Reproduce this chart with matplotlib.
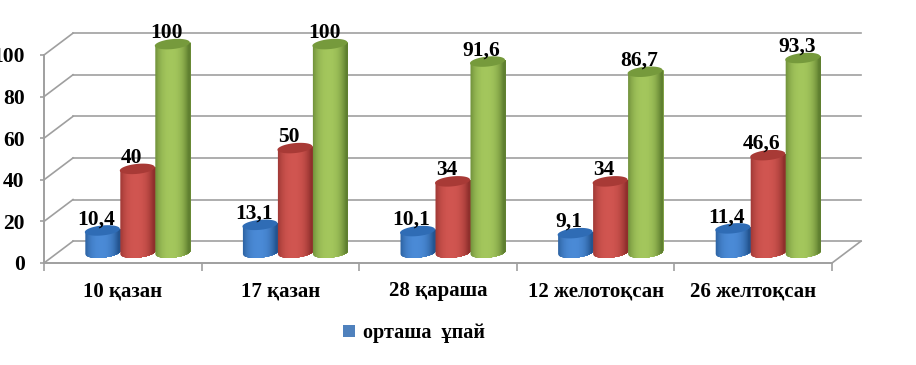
#############
# Libraries #
#############

import matplotlib
matplotlib.use("Agg")
import matplotlib.pyplot as plt
from matplotlib.patches import Patch
import numpy as np

########
# Data #
########

categories = ["10 қазан", "17 қазан", "28 қараша", "12 желотоқсан", "26 желтоқсан"]
blue_values = [10.4, 13.1, 10.1, 9.1, 11.4]
red_values = [40, 50, 34, 34, 46.6]
green_values = [100, 100, 91.6, 86.7, 93.3]
blue_labels = ["10,4", "13,1", "10,1", "9,1", "11,4"]
red_labels = ["40", "50", "34", "34", "46,6"]
green_labels = ["100", "100", "91,6", "86,7", "93,3"]
y_ticks = [0, 20, 40, 60, 80, 100]
legend_label = "орташа  ұпай"

##########
# Styles #
##########

FONT = ["Liberation Serif", "DejaVu Serif"]
GREY = "#9f9f9f"
# depth of the fake 3d box, in data units
DX = 0.184
DY = 10.5
BAR_W = 0.222
ELL_H = 2.4
TILT = 0.8

#############
# Functions #
#############

def shade(color, dark, t):
    """
    Mixes the light colour with the dark one, t=0 gives light.
    """
    c = np.array(matplotlib.colors.to_rgb(color))
    d = np.array(matplotlib.colors.to_rgb(dark))
    return c + (d - c) * t

def cylinder(ax, cx, value, light, dark, top, zorder):
    """
    Draws one cylinder as overlapping strips (no seams) and a top ellipse.
    """
    base = DY / 2
    a = BAR_W / 2
    edges = np.linspace(-1, 1, 41)
    for i in range(len(edges) - 1):
        u = np.linspace(edges[i], 1, 50)
        mid = (edges[i] + edges[i + 1]) / 2
        t = min(1.0, abs(mid + 0.1) ** 2.6)
        low = base - ELL_H * np.sqrt(1 - u**2) + TILT * u
        high = base + value + TILT * u
        ax.fill_between(cx + a * u, low, high, color=shade(light, dark, t),
                        lw=0, clip_on=False, zorder=zorder)
    th = np.linspace(0, 2 * np.pi, 80)
    ax.fill(cx + a * np.cos(th), base + value + ELL_H * np.sin(th) + TILT * np.cos(th),
            color=top, lw=0, clip_on=False, zorder=zorder + 0.1)

def draw_box(ax):
    """
    Draws the grid on the back wall, the side wall and the floor.
    """
    for v in y_ticks:
        ax.plot([0, DX], [v, v + DY], color=GREY, lw=1.2, clip_on=False, zorder=1)
        ax.plot([DX, 5 + DX], [v + DY, v + DY], color=GREY, lw=1.2, clip_on=False, zorder=1)
    ax.plot([5, 5 + DX], [0, DY], color=GREY, lw=1.2, clip_on=False, zorder=1)

###########
# Program #
###########

if __name__ == '__main__':
    fig = plt.figure(figsize=(9.16, 3.65), dpi=100)
    ax = fig.add_axes([44 / 916, (365 - 263) / 365, 788 / 916, 208 / 365])
    ax.set_xlim(0, 5)
    ax.set_ylim(0, 100)
    ax.patch.set_visible(False)
    for side in ["top", "right"]:
        ax.spines[side].set_visible(False)
    for side in ["left", "bottom"]:
        ax.spines[side].set_color(GREY)
        ax.spines[side].set_linewidth(1.4)

    draw_box(ax)

    ax.set_yticks(y_ticks)
    ax.set_yticklabels([str(v) for v in y_ticks], fontfamily=FONT, fontweight="bold",
                       fontsize=15.5, va="center_baseline")
    ax.tick_params(axis="y", length=3, color=GREY, pad=11, width=1.2)
    ax.set_xticks(range(6))
    ax.set_xticklabels([])
    ax.tick_params(axis="x", which="major", length=6, color=GREY, width=1.2)
    centers = np.arange(5) + 0.5
    ax.set_xticks(centers, minor=True)
    ax.set_xticklabels(categories, minor=True, fontfamily=FONT, fontweight="bold",
                       fontsize=15, va="baseline")
    ax.tick_params(axis="x", which="minor", length=0, pad=24)

    series = [
        (blue_values, blue_labels, "#4a8ad6", "#23548f", "#2f6cb5"),
        (red_values, red_labels, "#d05550", "#8f2f2c", "#a83a36"),
        (green_values, green_labels, "#a3c65c", "#5f7f30", "#769a3c"),
    ]
    for s, (values, labels, light, dark, top) in enumerate(series):
        for i in range(5):
            cx = centers[i] + DX / 2 + (s - 1) * BAR_W
            cylinder(ax, cx, values[i], light, dark, top, 3 + s + i * 0.01)
            ax.annotate(labels[i], (cx, DY / 2 + values[i]), xytext=(-4.2, 8),
                        textcoords="offset points", ha="center", va="center",
                        fontfamily=FONT, fontweight="bold", fontsize=15.5,
                        color="black", zorder=10, annotation_clip=False)

    handle = Patch(facecolor="#4f81bd", edgecolor="none")
    fig.legend([handle], [legend_label], loc="center", bbox_to_anchor=(414 / 916, 1 - 333 / 365),
               frameon=False, handlelength=0.55, handleheight=0.55, handletextpad=0.4,
               prop={"family": FONT, "weight": "bold", "size": 14.5})

    fig.savefig("out.png", dpi=100)
